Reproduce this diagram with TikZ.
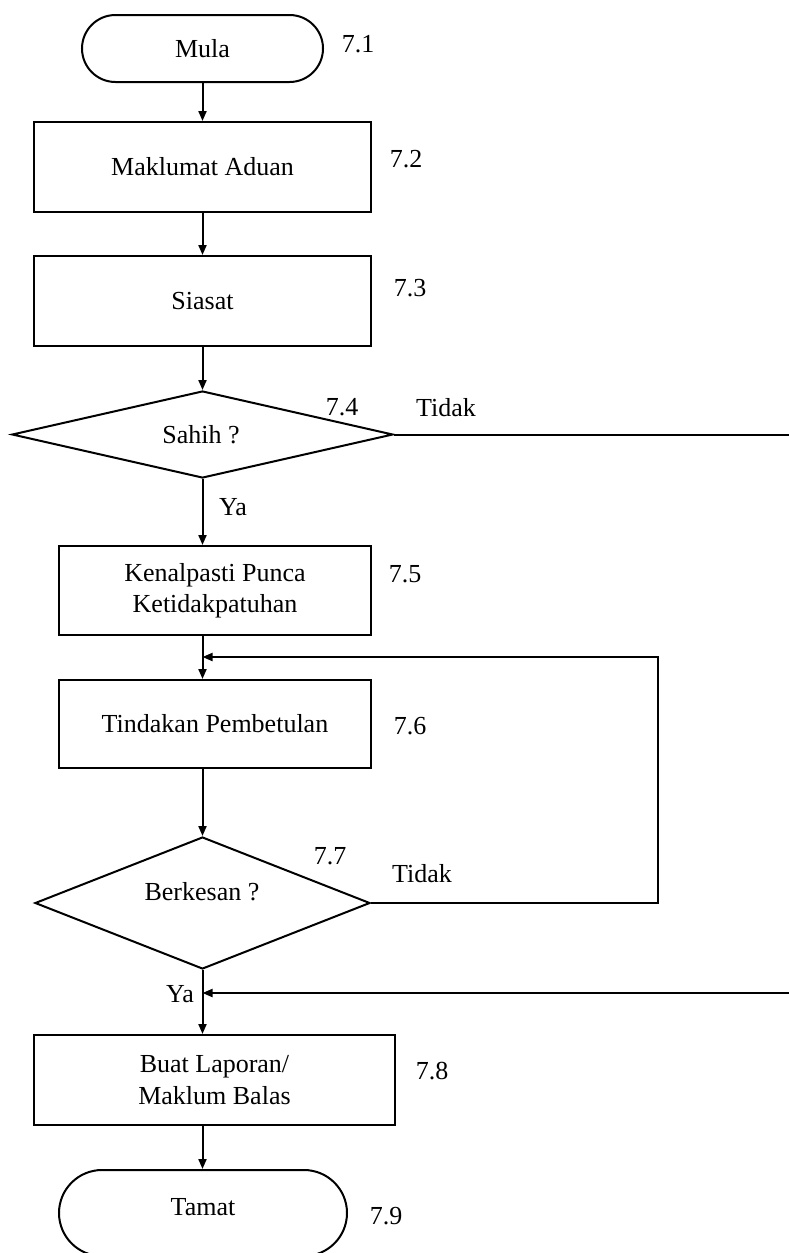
\documentclass[tikz,border=0pt]{standalone}
\usepackage{fontspec}
\setmainfont{Liberation Serif}
\usetikzlibrary{shapes.geometric,arrows.meta}
\begin{document}
\begin{tikzpicture}[x=1pt,y=-1pt,line width=2pt,
  every node/.style={font=\fontsize{26}{31.5}\selectfont},
  box/.style={draw,rectangle,inner sep=0pt,align=center},
  term/.style={draw,rectangle,inner sep=0pt},
  dia/.style={draw,diamond,inner sep=0pt},
  lbl/.style={inner sep=0pt},
  arr/.style={-{Triangle[length=10pt,width=8pt]}}]
\useasboundingbox (0,0) rectangle (788,1253);
% nodes
\node[term,minimum width=241pt,minimum height=67pt,rounded corners=33.5pt] (mula) at (202.5,48.5) {Mula};
\node[box,minimum width=337pt,minimum height=90pt] (mak) at (202.5,167) {Maklumat Aduan};
\node[box,minimum width=337pt,minimum height=90pt] (sia) at (202.5,301) {Siasat};
\node[dia,minimum width=381pt,minimum height=87pt] (sah) at (202.5,434.5) {};
\node[lbl] (sahT) at (201,435) {Sahih ?};
\node[box,minimum width=312pt,minimum height=89pt] (kena) at (215,590.5) {Kenalpasti Punca\\Ketidakpatuhan};
\node[box,minimum width=312pt,minimum height=88pt] (tin) at (215,724) {Tindakan Pembetulan};
\node[dia,minimum width=335pt,minimum height=132pt] (ber) at (202.5,903) {};
\node[lbl] (berT) at (202,892) {Berkesan ?};
\node[box,minimum width=361pt,minimum height=90pt] (buat) at (214.5,1080) {Buat Laporan/\\Maklum Balas};
\node[term,minimum width=288pt,minimum height=86pt,rounded corners=43pt] (tam) at (203,1213) {};
\node[lbl] (tamT) at (203,1207) {Tamat};
% labels
\node[lbl] (l71) at (358,44) {7.1};
\node[lbl] (l72) at (406,159) {7.2};
\node[lbl] (l73) at (410,288) {7.3};
\node[lbl] (l74) at (342,407) {7.4};
\node[lbl] (t1) at (446,408) {Tidak};
\node[lbl] (ya1) at (233,507) {Ya};
\node[lbl] (l75) at (405,574) {7.5};
\node[lbl] (l76) at (410,726) {7.6};
\node[lbl] (l77) at (330,856) {7.7};
\node[lbl] (t2) at (422,874) {Tidak};
\node[lbl] (ya2) at (180,994) {Ya};
\node[lbl] (l78) at (432,1071) {7.8};
\node[lbl] (l79) at (386,1216) {7.9};
% connectors
\draw[arr] (mula.south) -- (mak.north);
\draw[arr] (mak.south) -- (sia.north);
\draw[arr] (sia.south) -- (sah.north);
\draw[arr] (sah.south) -- (sah.south |- kena.north);
\draw[arr] (sah.south |- kena.south) -- (sah.south |- tin.north);
\draw[arr] (sah.south |- tin.south) -- (ber.north);
\coordinate (fbc) at (658,657);
\draw[arr] (ber.east) -| (fbc) -- (fbc -| sah.south);
\coordinate (tidakEnd) at (790,434.5);
\draw (sah.east) -- (tidakEnd);
\coordinate (yaIn) at (790,993);
\draw[arr] (yaIn) -- (yaIn -| ber.south);
\draw[arr] (ber.south) -- (ber.south |- buat.north);
\draw[arr] (ber.south |- buat.south) -- (ber.south |- tam.north);
\end{tikzpicture}
\end{document}
